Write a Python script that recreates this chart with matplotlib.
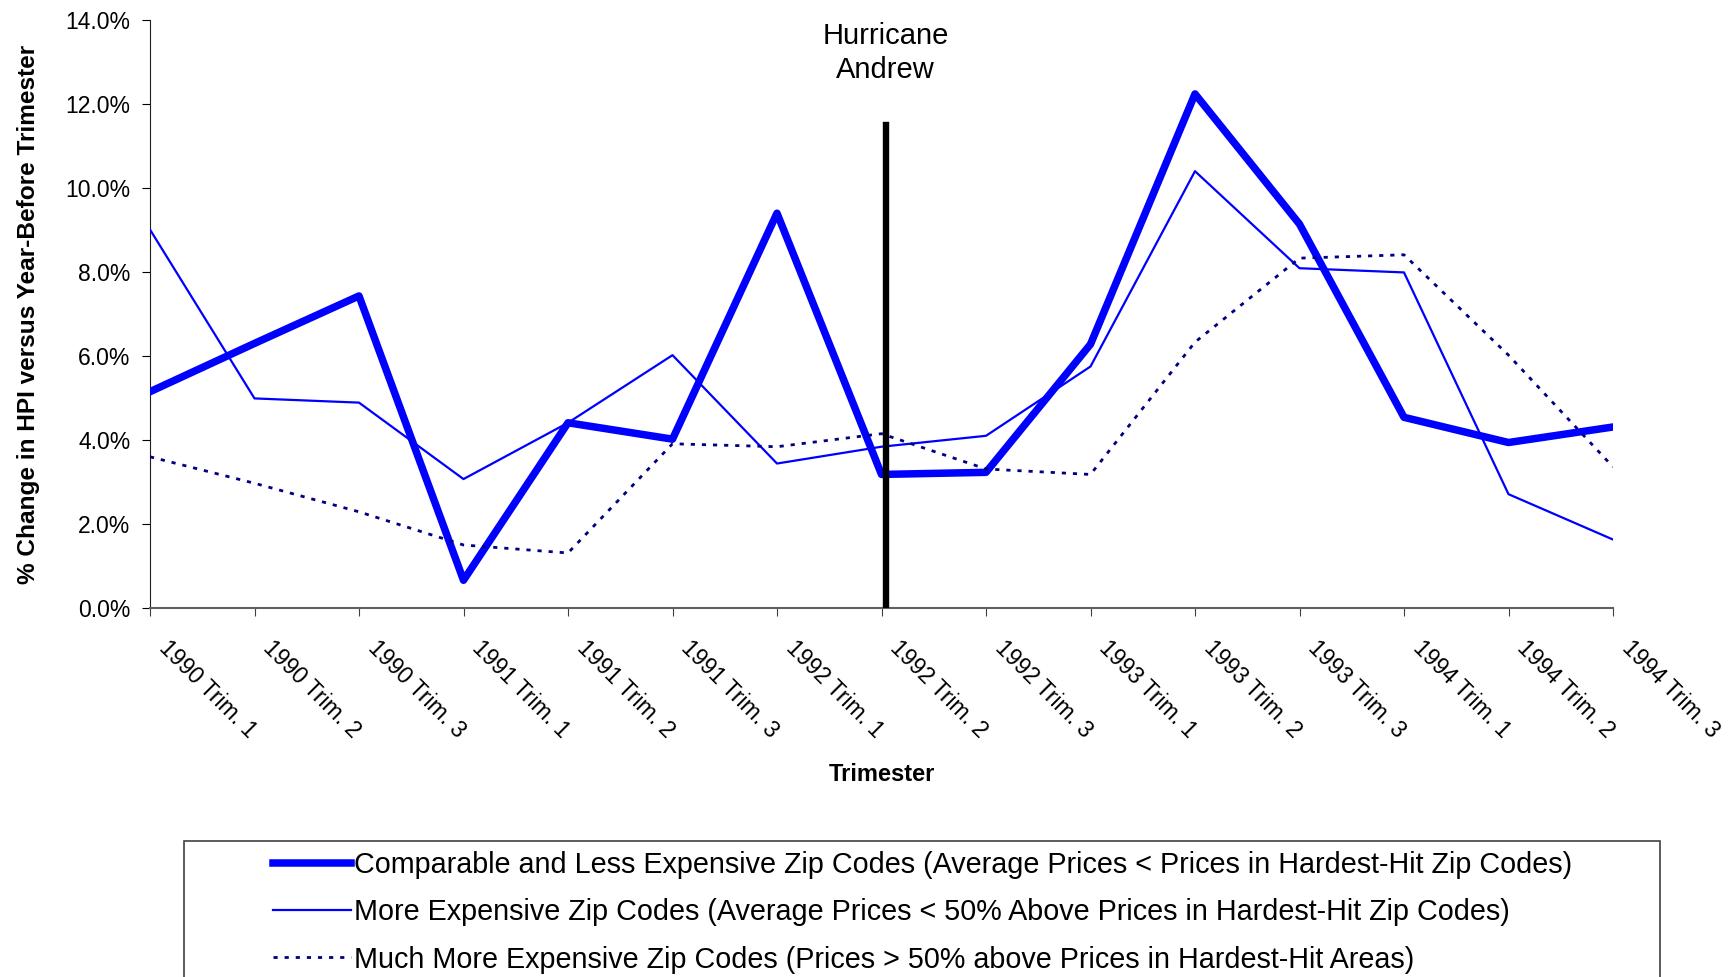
import matplotlib
matplotlib.use("Agg")
import matplotlib.pyplot as plt
import matplotlib.transforms as mtransforms
from matplotlib.patches import Rectangle

plt.rcParams['font.family'] = ['Liberation Sans', 'DejaVu Sans']

trimesters = ['1990 Trim. 1', '1990 Trim. 2', '1990 Trim. 3',
              '1991 Trim. 1', '1991 Trim. 2', '1991 Trim. 3',
              '1992 Trim. 1', '1992 Trim. 2', '1992 Trim. 3',
              '1993 Trim. 1', '1993 Trim. 2', '1993 Trim. 3',
              '1994 Trim. 1', '1994 Trim. 2', '1994 Trim. 3']

comparable = [5.15, 6.30, 7.43, 0.66, 4.41, 4.02, 9.40, 3.18, 3.23,
              6.28, 12.24, 9.14, 4.54, 3.94, 4.31]
more_expensive = [9.01, 4.99, 4.89, 3.07, 4.41, 6.02, 3.44, 3.84, 4.10,
                  5.75, 10.40, 8.09, 7.99, 2.71, 1.63]
much_more_expensive = [3.60, 2.97, 2.29, 1.50, 1.31, 3.91, 3.84, 4.15, 3.31,
                       3.18, 6.33, 8.33, 8.41, 6.02, 3.36]

hurricane_x = 7.04
hurricane_top = 11.5

labels = ['Comparable and Less Expensive Zip Codes (Average Prices < Prices in Hardest-Hit Zip Codes)',
          'More Expensive Zip Codes (Average Prices < 50% Above Prices in Hardest-Hit Zip Codes)',
          'Much More Expensive Zip Codes (Prices > 50% above Prices in Hardest-Hit Areas)']

fig = plt.figure(figsize=(17.29, 9.77), dpi=100)
ax = fig.add_axes([150 / 1729, 1 - 608 / 977, (1613 - 150) / 1729, (608 - 20) / 977])

x = list(range(len(trimesters)))
l1, = ax.plot(x, comparable, color='#0000ff', lw=5.4, zorder=3)
l2, = ax.plot(x, more_expensive, color='#0000ff', lw=1.6, zorder=3)
l3, = ax.plot(x, much_more_expensive, color='#000080', lw=2.0,
              linestyle=(0, (1.5, 2.5)), zorder=3)

ax.plot([hurricane_x, hurricane_x], [0, hurricane_top], color='black', lw=4.6, zorder=4)
ax.text(hurricane_x, 13.22, 'Hurricane\nAndrew', ha='center', va='center',
        fontsize=21, linespacing=1.27)

ax.set_xlim(0, len(trimesters) - 1)
ax.set_ylim(0, 14)
yt = [0, 2, 4, 6, 8, 10, 12, 14]
ax.set_yticks(yt)
ax.set_yticklabels(['%.1f%%' % v for v in yt], fontsize=16.5)
ax.set_xticks(x)
ax.set_xticklabels(trimesters, rotation=-45, ha='left', va='top', fontsize=16.5)
ax.tick_params(axis='x', length=6, pad=14, color='#404040')
ax.tick_params(axis='y', length=6, pad=8)

# nudge the slanted tick labels a bit to the right, like the original
shift = mtransforms.ScaledTranslation(4 / 100, 0, fig.dpi_scale_trans)
for lab in ax.get_xticklabels():
    lab.set_transform(lab.get_transform() + shift)

for side in ['top', 'right']:
    ax.spines[side].set_visible(False)
ax.spines['bottom'].set_color('#606060')
ax.spines['bottom'].set_linewidth(1.5)
ax.spines['left'].set_color('#202020')

ax.set_ylabel('% Change in HPI versus Year-Before Trimester', fontsize=17.6, fontweight='bold')
ax.yaxis.set_label_coords(-0.075, 0.5)
ax.set_xlabel('Trimester', fontsize=17, fontweight='bold')
ax.xaxis.set_label_coords(0.5, -0.263)

# legend frame (runs off the bottom of the figure)
fig.patches.append(Rectangle((184 / 1729, -0.05), (1660 - 184) / 1729, 0.05 + (977 - 841) / 977,
                             transform=fig.transFigure, fill=False, edgecolor='#404040', lw=1.2))
fig.legend([l1, l2, l3], labels, loc='upper left',
           bbox_to_anchor=(273 / 1729, 1 - 851 / 977), frameon=False,
           fontsize=20.7, handlelength=2.7, handletextpad=0.1, labelspacing=0.67,
           borderaxespad=0, borderpad=0)

fig.savefig('out.png', dpi=100)
